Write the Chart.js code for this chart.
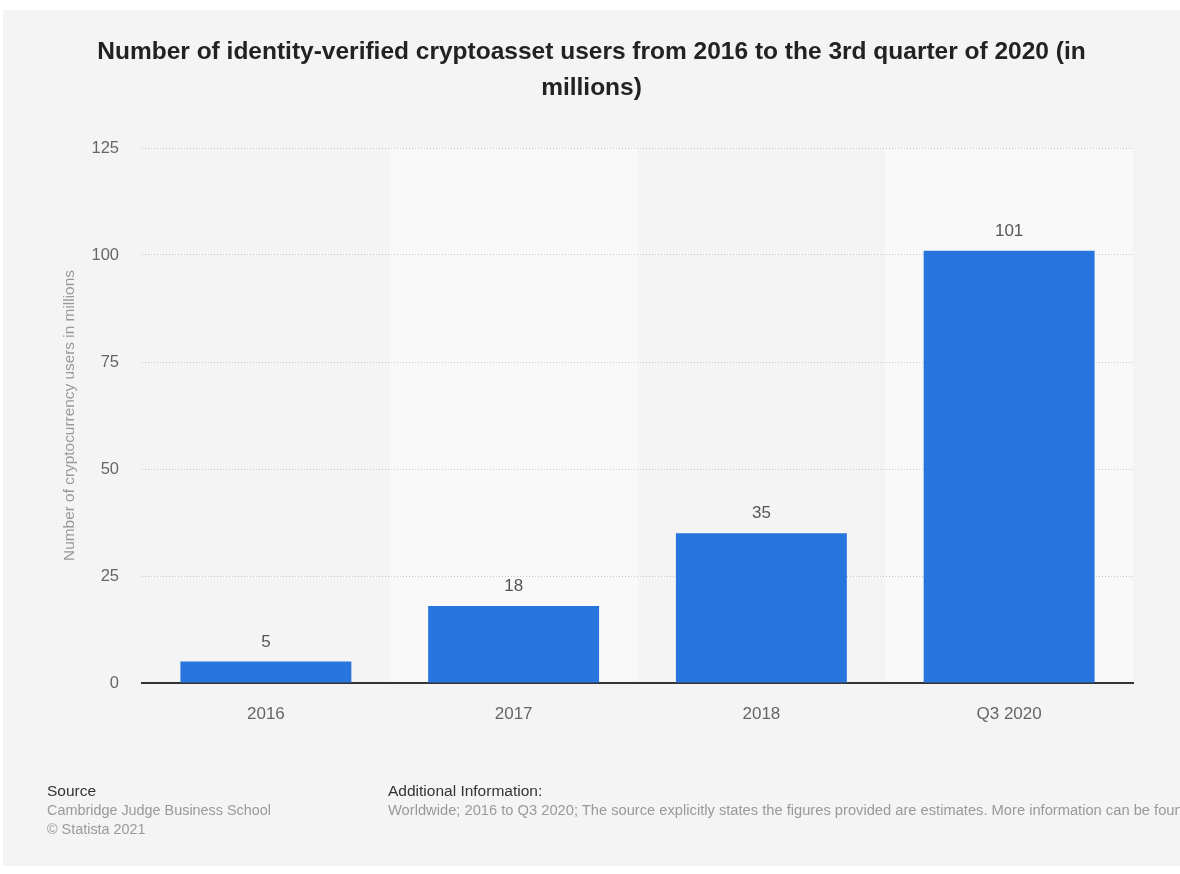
<!DOCTYPE html>
<html>
<head>
<meta charset="utf-8">
<script src="https://cdn.jsdelivr.net/npm/chart.js@4/dist/chart.umd.min.js"></script>
<style>
body { margin: 0; background: #fff; font-family: "Liberation Sans", Arial, sans-serif; }
#box { position: absolute; left: 3px; top: 10px; width: 1177px; height: 856px; background: #f4f4f4; overflow: hidden; }
#wrap { position: absolute; left: 0; top: 0; width: 1177px; height: 856px; }
.ft { position: absolute; white-space: nowrap; line-height: 19px; }
.hd { color: #333; font-size: 15.5px; }
.tx { color: #999; font-size: 14.4px; }
</style>
</head>
<body>
<div id="box">
  <div id="wrap"><canvas id="grafico"></canvas></div>
  <div class="ft hd" style="left:44px; top:771px;">Source</div>
  <div class="ft tx" style="left:44px; top:791px;">Cambridge Judge Business School</div>
  <div class="ft tx" style="left:44px; top:810px;">© Statista 2021</div>
  <div class="ft hd" style="left:385px; top:771px;">Additional Information:</div>
  <div class="ft tx" style="left:385px; top:791px; font-size:14.7px;">Worldwide; 2016 to Q3 2020; The source explicitly states the figures provided are estimates. More information can be found here.</div>
</div>
<script>
// dados
var categorias = ['2016', '2017', '2018', 'Q3 2020'];
var usuarios = [5, 18, 35, 101];
var marcasY = [0, 25, 50, 75, 100, 125];

var fonte = '"Liberation Sans", Arial, sans-serif';

// faixas alternadas no fundo
var faixas = {
    id: 'faixas',
    beforeDraw: function (chart) {
        var c = chart.ctx, a = chart.chartArea, x = chart.scales.x;
        var w = x.width / categorias.length;
        c.save();
        c.fillStyle = '#f9f9f9';
        for (var i = 1; i < categorias.length; i += 2) {
            c.fillRect(x.getPixelForValue(i) - w / 2, a.top, w, a.bottom - a.top);
        }
        c.restore();
    }
};

// rótulos em cima das barras
var rotulos = {
    id: 'rotulos',
    afterDatasetsDraw: function (chart) {
        var c = chart.ctx;
        c.save();
        c.fillStyle = '#555';
        c.font = '17px ' + fonte;
        c.textAlign = 'center';
        c.textBaseline = 'bottom';
        chart.getDatasetMeta(0).data.forEach(function (bar, i) {
            c.fillText(usuarios[i], bar.x, bar.y - 11);
        });
        c.restore();
    }
};

var ctx = document.getElementById('grafico').getContext('2d');
var grafico = new Chart(ctx, {
    type: 'bar',
    data: {
        labels: categorias,
        datasets: [{
            label: 'users',
            data: usuarios,
            backgroundColor: '#2876dd',
            barPercentage: 0.69,
            categoryPercentage: 1
        }]
    },
    options: {
        responsive: true,
        maintainAspectRatio: false,
        animation: false,
        layout: { padding: { left: 47, right: 47, top: 0, bottom: 0 } },
        plugins: {
            legend: { display: false },
            tooltip: { enabled: false },
            title: {
                display: true,
                text: ['Number of identity-verified cryptoasset users from 2016 to the 3rd quarter of 2020 (in', 'millions)'],
                color: '#222',
                font: { family: fonte, size: 24.5, weight: 'bold', lineHeight: 36 / 24.5 },
                padding: { top: 24, bottom: 42 }
            }
        },
        scales: {
            x: {
                grid: { display: false },
                border: { display: true, color: '#333', width: 2 },
                ticks: { color: '#666', padding: 13, font: { family: fonte, size: 17 } },
                afterFit: function (s) { s.height = 183; }
            },
            y: {
                min: 0,
                max: 125,
                afterBuildTicks: function (s) { s.ticks = marcasY.map(function (v) { return { value: v }; }); },
                border: { display: false, dash: [1, 2] },
                grid: {
                    color: function (c) { return c.tick && c.tick.value === 0 ? 'rgba(0,0,0,0)' : '#c8c8c8'; },
                    drawTicks: false
                },
                ticks: { color: '#666', padding: 23, font: { family: fonte, size: 16.5 } },
                title: {
                    display: true,
                    text: 'Number of cryptocurrency users in millions',
                    color: '#999',
                    font: { family: fonte, size: 15.4 },
                    padding: { top: 11, bottom: 0 }
                },
                afterFit: function (s) { s.width = 92; }
            }
        }
    },
    plugins: [faixas, rotulos]
});
</script>
</body>
</html>
